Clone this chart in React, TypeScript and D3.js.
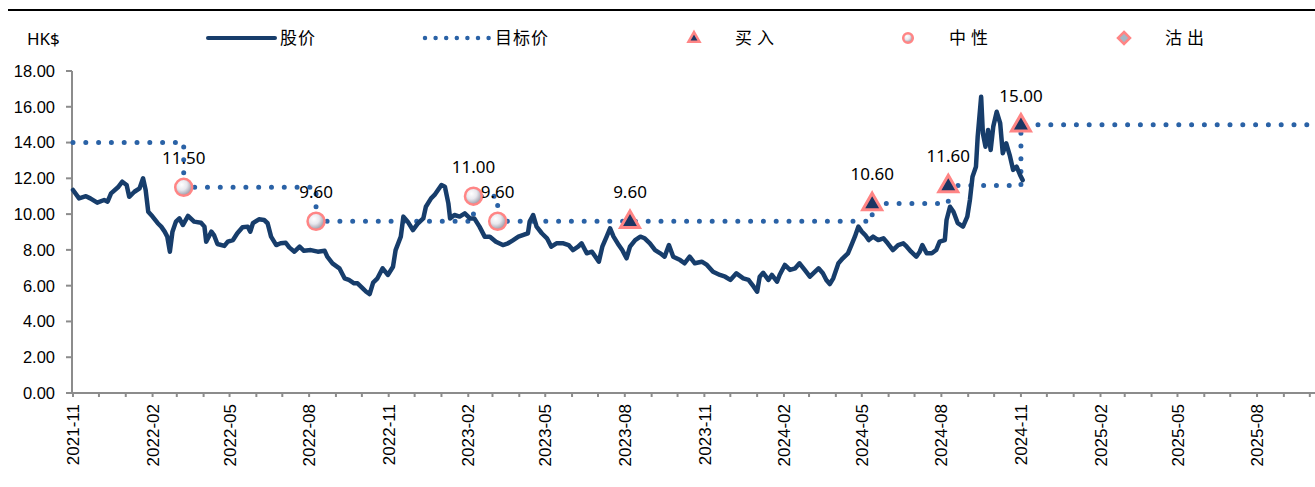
import * as d3 from 'd3';

const priceSeries: [string, number][] = [
  ['2021-11-01', 11.35], ['2021-11-08', 10.88], ['2021-11-16', 11.0], ['2021-11-21', 10.88],
  ['2021-11-29', 10.64], ['2021-12-07', 10.79], ['2021-12-11', 10.7], ['2021-12-15', 11.16],
  ['2021-12-23', 11.5], ['2021-12-28', 11.81], ['2022-01-02', 11.63], ['2022-01-05', 10.97],
  ['2022-01-11', 11.25], ['2022-01-17', 11.44], ['2022-01-21', 12.0], ['2022-01-24', 11.35],
  ['2022-01-27', 10.13], ['2022-02-01', 9.86], ['2022-02-07', 9.49], ['2022-02-11', 9.3],
  ['2022-02-15', 9.02], ['2022-02-18', 8.74], ['2022-02-21', 7.9], ['2022-02-24', 9.02],
  ['2022-02-28', 9.58], ['2022-03-04', 9.76], ['2022-03-08', 9.39], ['2022-03-14', 9.9],
  ['2022-03-21', 9.58], ['2022-03-29', 9.52], ['2022-04-02', 9.3], ['2022-04-04', 8.46],
  ['2022-04-10', 9.02], ['2022-04-13', 8.83], ['2022-04-17', 8.33], ['2022-04-25', 8.22],
  ['2022-04-29', 8.46], ['2022-05-05', 8.55], ['2022-05-10', 8.93], ['2022-05-16', 9.26],
  ['2022-05-22', 9.3], ['2022-05-25', 9.02], ['2022-05-28', 9.49], ['2022-06-04', 9.71],
  ['2022-06-10', 9.67], ['2022-06-14', 9.49], ['2022-06-18', 8.74], ['2022-06-24', 8.27],
  ['2022-06-29', 8.37], ['2022-07-05', 8.4], ['2022-07-09', 8.14], ['2022-07-15', 7.9],
  ['2022-07-21', 8.18], ['2022-07-26', 7.95], ['2022-08-03', 7.99], ['2022-08-11', 7.9],
  ['2022-08-19', 7.95], ['2022-08-22', 7.62], ['2022-08-28', 7.25], ['2022-09-05', 6.97],
  ['2022-09-11', 6.41], ['2022-09-16', 6.32], ['2022-09-22', 6.13], ['2022-09-26', 6.13],
  ['2022-10-02', 5.85], ['2022-10-06', 5.66], ['2022-10-10', 5.53], ['2022-10-14', 6.17],
  ['2022-10-19', 6.41], ['2022-10-25', 6.97], ['2022-10-31', 6.6], ['2022-11-06', 7.06],
  ['2022-11-09', 7.99], ['2022-11-15', 8.74], ['2022-11-18', 9.86], ['2022-11-23', 9.58],
  ['2022-11-29', 9.11], ['2022-12-05', 9.49], ['2022-12-11', 9.76], ['2022-12-14', 10.41],
  ['2022-12-20', 10.88], ['2022-12-24', 11.07], ['2022-12-28', 11.35], ['2023-01-01', 11.63],
  ['2023-01-05', 11.53], ['2023-01-09', 10.6], ['2023-01-11', 9.76], ['2023-01-16', 9.95],
  ['2023-01-22', 9.86], ['2023-01-28', 10.04], ['2023-02-03', 9.76], ['2023-02-08', 9.76],
  ['2023-02-14', 9.3], ['2023-02-20', 8.74], ['2023-02-26', 8.74], ['2023-03-05', 8.46],
  ['2023-03-13', 8.27], ['2023-03-19', 8.37], ['2023-03-25', 8.55], ['2023-03-31', 8.74],
  ['2023-04-05', 8.83], ['2023-04-11', 8.93], ['2023-04-13', 9.58], ['2023-04-17', 9.95],
  ['2023-04-21', 9.3], ['2023-04-27', 8.93], ['2023-05-03', 8.65], ['2023-05-08', 8.18],
  ['2023-05-14', 8.37], ['2023-05-22', 8.37], ['2023-05-28', 8.27], ['2023-06-02', 7.99],
  ['2023-06-08', 8.18], ['2023-06-12', 8.37], ['2023-06-18', 7.81], ['2023-06-24', 7.9],
  ['2023-07-02', 7.34], ['2023-07-06', 8.18], ['2023-07-11', 8.74], ['2023-07-15', 9.21],
  ['2023-07-19', 8.74], ['2023-07-25', 8.27], ['2023-07-29', 7.99], ['2023-08-03', 7.53],
  ['2023-08-07', 8.18], ['2023-08-13', 8.55], ['2023-08-19', 8.74], ['2023-08-24', 8.65],
  ['2023-08-30', 8.37], ['2023-09-05', 7.99], ['2023-09-11', 7.81], ['2023-09-16', 7.62],
  ['2023-09-21', 8.27], ['2023-09-26', 7.62], ['2023-10-04', 7.43], ['2023-10-09', 7.25],
  ['2023-10-15', 7.62], ['2023-10-21', 7.25], ['2023-10-29', 7.34], ['2023-11-04', 7.16],
  ['2023-11-11', 6.78], ['2023-11-19', 6.6], ['2023-11-25', 6.5], ['2023-12-01', 6.32],
  ['2023-12-08', 6.69], ['2023-12-16', 6.41], ['2023-12-22', 6.32], ['2023-12-28', 5.94],
  ['2024-01-01', 5.66], ['2024-01-04', 6.5], ['2024-01-08', 6.72], ['2024-01-14', 6.32],
  ['2024-01-18', 6.6], ['2024-01-24', 6.22], ['2024-01-27', 6.6], ['2024-02-02', 7.16],
  ['2024-02-08', 6.88], ['2024-02-14', 6.97], ['2024-02-19', 7.25], ['2024-02-25', 6.88],
  ['2024-03-02', 6.5], ['2024-03-08', 6.78], ['2024-03-12', 6.97], ['2024-03-17', 6.69],
  ['2024-03-21', 6.32], ['2024-03-25', 6.09], ['2024-03-29', 6.41], ['2024-04-04', 7.25],
  ['2024-04-09', 7.53], ['2024-04-15', 7.81], ['2024-04-19', 8.27], ['2024-04-23', 8.74],
  ['2024-04-27', 9.3], ['2024-05-01', 9.02], ['2024-05-05', 8.83], ['2024-05-09', 8.55],
  ['2024-05-14', 8.74], ['2024-05-20', 8.55], ['2024-05-26', 8.65], ['2024-05-31', 8.37],
  ['2024-06-06', 7.99], ['2024-06-12', 8.27], ['2024-06-18', 8.37], ['2024-06-22', 8.18],
  ['2024-06-27', 7.9], ['2024-07-03', 7.62], ['2024-07-07', 7.9], ['2024-07-10', 8.27],
  ['2024-07-15', 7.81], ['2024-07-21', 7.81], ['2024-07-26', 7.99], ['2024-07-30', 8.46],
  ['2024-08-05', 8.55], ['2024-08-07', 9.67], ['2024-08-11', 10.41], ['2024-08-15', 10.13],
  ['2024-08-20', 9.49], ['2024-08-26', 9.3], ['2024-08-31', 9.86], ['2024-09-03', 10.79],
  ['2024-09-06', 12.09], ['2024-09-10', 12.65], ['2024-09-12', 14.33], ['2024-09-16', 16.56],
  ['2024-09-18', 14.51], ['2024-09-21', 13.77], ['2024-09-24', 14.7], ['2024-09-27', 13.58],
  ['2024-09-30', 14.89], ['2024-10-04', 15.72], ['2024-10-08', 15.08], ['2024-10-11', 13.4],
  ['2024-10-15', 13.96], ['2024-10-19', 13.3], ['2024-10-23', 12.47], ['2024-10-27', 12.65],
  ['2024-10-31', 12.19], ['2024-11-03', 11.9],
];

// rating changes: date, target price, rating
const ratingDates = ['2022-03-09', '2022-08-09', '2023-02-07', '2023-03-07', '2023-08-07', '2024-05-13', '2024-08-09', '2024-11-01'];
const ratingTargets = [11.5, 9.6, 11.0, 9.6, 9.6, 10.6, 11.6, 15.0];
const ratingTypes = ['neutral', 'neutral', 'neutral', 'neutral', 'buy', 'buy', 'buy', 'buy'];
const initialTarget: [string, number] = ['2021-11-01', 14.0];

const axisStart = '2021-11-01';
const axisEnd = '2025-10-07';
const yTicks = [0, 2, 4, 6, 8, 10, 12, 14, 16, 18];

const legendItems = [
  { key: 'price', label: '股价', x: 208 },
  { key: 'target', label: '目标价', x: 423 },
  { key: 'buy', label: '买入', x: 694 },
  { key: 'neutral', label: '中性', x: 908 },
  { key: 'sell', label: '沽出', x: 1124 },
];

const W = 1315;
const H = 487;
const parse = d3.timeParse('%Y-%m-%d');
const fmt = d3.timeFormat('%Y-%m');

const NAVY = '#173d6b';
const DOT = '#2a62a6';
const PINK = '#ff8585';
const TRI = '#1b3563';

function Triangle({ x, y, s }: { x: number; y: number; s: number }) {
  const h = s * 0.87;
  return (
    <path
      d={`M${x},${y - h * 0.62} L${x + s / 2},${y + h * 0.38} L${x - s / 2},${y + h * 0.38} Z`}
      fill={TRI}
      stroke={PINK}
      strokeWidth={s > 12 ? 3 : 2.5}
      strokeLinejoin="miter"
    />
  );
}

export default function App() {
  const x = d3.scaleTime().domain([parse(axisStart)!, parse(axisEnd)!]).range([73, 1315]);
  const y = d3.scaleLinear().domain([0, 18]).range([393, 71]);

  const price = priceSeries.map(([d, v]) => ({ date: parse(d)!, v }));
  const targetPts = [
    { date: parse(initialTarget[0])!, v: initialTarget[1] },
    ...ratingDates.map((d, i) => ({ date: parse(d)!, v: ratingTargets[i] })),
    { date: parse(axisEnd)!, v: ratingTargets[ratingTargets.length - 1] },
  ];

  const priceLine = d3.line<{ date: Date; v: number }>().x(d => x(d.date)).y(d => y(d.v));
  const targetLine = d3
    .line<{ date: Date; v: number }>()
    .x(d => x(d.date))
    .y(d => y(d.v))
    .curve(d3.curveStepAfter);

  const months = d3.timeMonth.range(parse(axisStart)!, parse(axisEnd)!);
  const labelled = months.filter((_, i) => i % 3 === 0);

  const axisColor = '#8c8c8c';

  return (
    <div style={{ position: 'absolute', left: 0, top: 0 }}>
      <svg width={W} height={H} style={{ display: 'block', background: '#fff' }}>
        <defs>
          <radialGradient id="ball" cx="38%" cy="35%" r="70%">
            <stop offset="0%" stopColor="#ffffff" />
            <stop offset="45%" stopColor="#e8e8ee" />
            <stop offset="100%" stopColor="#8e8e9c" />
          </radialGradient>
        </defs>

        {/* top rule */}
        <line x1={8} x2={W} y1={10} y2={10} stroke="#000" strokeWidth={2} />

        {/* legend */}
        <text x={27} y={45} fontFamily="'Noto Sans', sans-serif" fontSize={17} fill="#000">HK$</text>
        {legendItems.map(item => {
          const cy = 38;
          const textStyle = {
            fontFamily: "'Noto Sans CJK SC', sans-serif",
            fontSize: 17,
            letterSpacing: item.key === 'price' || item.key === 'target' ? 1 : 5,
          } as const;
          if (item.key === 'price') {
            return (
              <g key={item.key}>
                <line x1={item.x} x2={item.x + 67} y1={cy} y2={cy} stroke={NAVY} strokeWidth={4} strokeLinecap="round" />
                <text x={item.x + 72} y={cy + 6} style={textStyle}>{item.label}</text>
              </g>
            );
          }
          if (item.key === 'target') {
            return (
              <g key={item.key}>
                <line x1={item.x + 2} x2={item.x + 66} y1={cy} y2={cy} stroke={DOT} strokeWidth={4.5} strokeLinecap="round" strokeDasharray="0 10.6" />
                <text x={item.x + 72} y={cy + 6} style={textStyle}>{item.label}</text>
              </g>
            );
          }
          let mark;
          if (item.key === 'buy') mark = <Triangle x={item.x} y={cy} s={11} />;
          else if (item.key === 'neutral')
            mark = <circle cx={item.x} cy={cy} r={4.8} fill="url(#ball)" stroke={PINK} strokeWidth={2.5} />;
          else
            mark = (
              <path
                d={`M${item.x},${cy - 6} L${item.x + 6},${cy} L${item.x},${cy + 6} L${item.x - 6},${cy} Z`}
                fill="#a3b8c6"
                stroke={PINK}
                strokeWidth={2.5}
              />
            );
          return (
            <g key={item.key}>
              {mark}
              <text x={item.x + 41} y={cy + 6} style={textStyle}>{item.label}</text>
            </g>
          );
        })}

        {/* y axis */}
        <line x1={72} x2={72} y1={y(18)} y2={y(0) + 1} stroke={axisColor} strokeWidth={2} />
        {yTicks.map(t => (
          <g key={t}>
            <line x1={66} x2={72} y1={y(t)} y2={y(t)} stroke={axisColor} strokeWidth={2} />
            <text
              x={55}
              y={y(t)}
              dy="0.36em"
              textAnchor="end"
              fontFamily="'Liberation Sans', Arial, sans-serif"
              fontSize={16.5}
              fill="#000"
            >
              {t.toFixed(2)}
            </text>
          </g>
        ))}

        {/* x axis */}
        <line x1={71} x2={W} y1={y(0)} y2={y(0)} stroke={axisColor} strokeWidth={2} />
        {months.map(m => (
          <line key={+m} x1={x(m)} x2={x(m)} y1={y(0)} y2={y(0) + 4} stroke={axisColor} strokeWidth={2} />
        ))}
        {labelled.map(m => (
          <text
            key={+m}
            transform={`translate(${x(m)},${y(0) + 11}) rotate(-90)`}
            dy="0.36em"
            textAnchor="end"
            fontFamily="'Liberation Sans', Arial, sans-serif"
            fontSize={17}
            fill="#000"
          >
            {fmt(m)}
          </text>
        ))}

        {/* target price */}
        <path
          d={targetLine(targetPts) ?? ''}
          fill="none"
          stroke={DOT}
          strokeWidth={5}
          strokeLinecap="round"
          strokeDasharray="0 12.8"
        />

        {/* share price */}
        <path
          d={priceLine(price) ?? ''}
          fill="none"
          stroke={NAVY}
          strokeWidth={4.5}
          strokeLinejoin="round"
          strokeLinecap="round"
        />

        {/* rating markers */}
        {ratingDates.map((d, i) => {
          const cx = x(parse(d)!);
          const cy = y(ratingTargets[i]);
          return ratingTypes[i] === 'buy' ? (
            <Triangle key={d} x={cx} y={cy} s={19} />
          ) : (
            <circle key={d} cx={cx} cy={cy} r={8.5} fill="url(#ball)" stroke={PINK} strokeWidth={2.5} />
          );
        })}
        {ratingDates.map((d, i) => (
          <text
            key={'l' + d}
            x={x(parse(d)!)}
            y={y(ratingTargets[i]) - 23}
            textAnchor="middle"
            fontFamily="'Noto Sans', sans-serif"
            fontSize={17}
            fill="#000"
          >
            {ratingTargets[i].toFixed(2)}
          </text>
        ))}
      </svg>
    </div>
  );
}
